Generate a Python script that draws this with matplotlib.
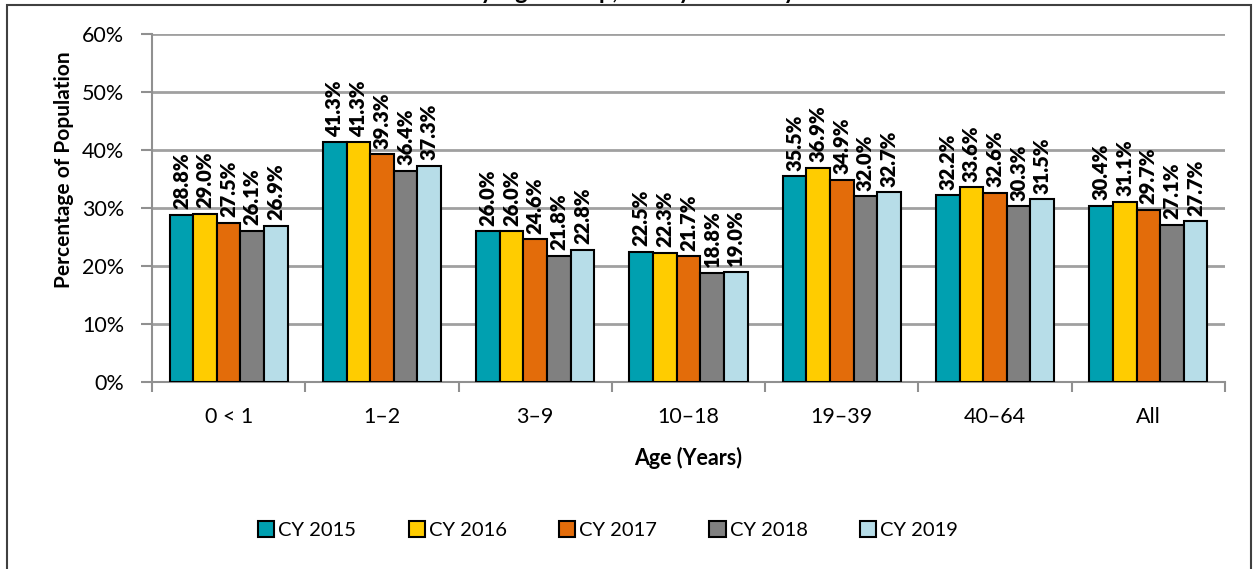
import matplotlib.pyplot as plt
import matplotlib.patches as mpatches
import numpy as np

plt.rcParams['font.family'] = ['Lato', 'DejaVu Sans']

# data (percent of population)
age_groups = ["0 < 1", "1–2", "3–9", "10–18", "19–39", "40–64", "All"]
years = ["CY 2015", "CY 2016", "CY 2017", "CY 2018", "CY 2019"]
cy2015 = [28.8, 41.3, 26.0, 22.5, 35.5, 32.2, 30.4]
cy2016 = [29.0, 41.3, 26.0, 22.3, 36.9, 33.6, 31.1]
cy2017 = [27.5, 39.3, 24.6, 21.7, 34.9, 32.6, 29.7]
cy2018 = [26.1, 36.4, 21.8, 18.8, 32.0, 30.3, 27.1]
cy2019 = [26.9, 37.3, 22.8, 19.0, 32.7, 31.5, 27.7]
series = [cy2015, cy2016, cy2017, cy2018, cy2019]
colors = ["#00A0B0", "#FFCC00", "#E36C0A", "#808080", "#B7DDE8"]

W, H = 1253, 569
fig = plt.figure(figsize=(W / 100, H / 100), dpi=100)
ax = fig.add_axes([152 / W, 1 - 382 / H, (1225 - 152) / W, (382 - 34) / H])

# outer chart frame
fig.add_artist(mpatches.Rectangle((7 / W, -0.05), (1251 - 7) / W, 1.05 - 5 / H,
                                  transform=fig.transFigure, fill=False,
                                  edgecolor="#404040", linewidth=1.5))

# title is clipped at the top in the source image
fig.text(631 / W, 1 + 1 / H, "by Age Group, Yearly Summary", ha="center",
         va="baseline", fontsize=17, fontweight="bold")

x = np.arange(len(age_groups))
bw = 0.154
for i, (vals, c, lab) in enumerate(zip(series, colors, years)):
    pos = x + (i - 2) * bw
    ax.bar(pos, vals, width=bw, color=c, edgecolor="black", linewidth=1.5,
           label=lab, zorder=3)
    for px, v in zip(pos, vals):
        ax.annotate(f"{v:.1f}%", (px, v), xytext=(0, 4), textcoords="offset points",
                    rotation=90, ha="center", va="bottom", fontsize=14.5,
                    fontweight="heavy")

ax.set_xlim(-0.5, len(age_groups) - 0.5)
ax.set_ylim(0, 60)
ax.set_yticks(range(0, 61, 10))
ax.set_yticklabels([f"{t}%" for t in range(0, 61, 10)], fontsize=15.5)
ax.yaxis.grid(True, color="#A0A0A0", linewidth=2, zorder=0)

# category labels centred, separator ticks at group boundaries
ax.set_xticks(x)
ax.set_xticklabels(age_groups, fontsize=15.5)
ax.tick_params(axis="x", length=0, pad=18)
ax.set_xticks(np.arange(-0.5, len(age_groups), 1), minor=True)
ax.tick_params(axis="x", which="minor", length=7, width=1.5, color="#909090")
ax.tick_params(axis="y", length=8, width=1.5, color="#909090", pad=12)

for s in ["top", "right"]:
    ax.spines[s].set_visible(False)
for s in ["left", "bottom"]:
    ax.spines[s].set_color("#909090")
    ax.spines[s].set_linewidth(1.5)

ax.set_xlabel("Age (Years)", fontsize=15.5, fontweight="bold", labelpad=14)
ax.set_ylabel("Percentage of Population", fontsize=15, fontweight="bold")
ax.yaxis.set_label_coords(-0.073, 0.61)

fig.legend(loc="center", bbox_to_anchor=(608 / W, 1 - 530 / H), ncol=5,
           frameon=False, fontsize=14.5, handlelength=0.8, handleheight=0.8,
           handletextpad=0.2, columnspacing=2.6)

fig.savefig("out.png", dpi=100)
